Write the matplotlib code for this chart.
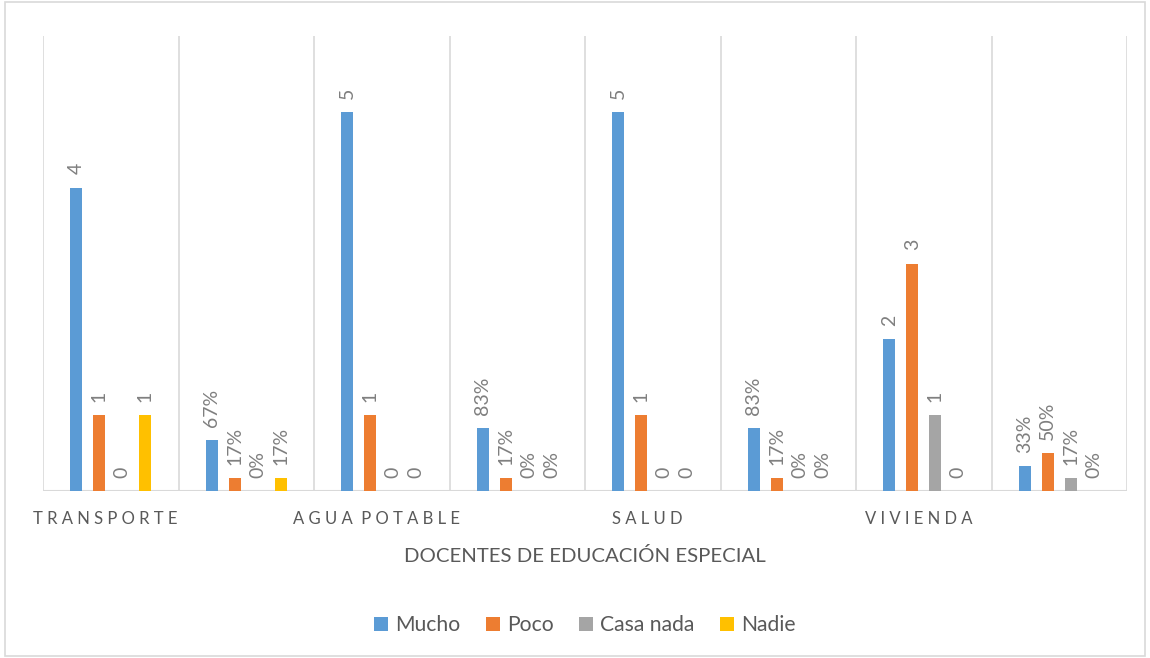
import matplotlib
matplotlib.use("Agg")
import matplotlib.pyplot as plt
from matplotlib.patches import Rectangle
import numpy as np

# data
categories = ["TRANSPORTE", "AGUA POTABLE", "SALUD", "VIVIENDA"]
series = ["Mucho", "Poco", "Casa nada", "Nadie"]
colors = ["#5B9BD5", "#ED7D31", "#A5A5A5", "#FFC000"]
# counts per category (rows = series)
counts = [
    [4, 5, 5, 2],   # Mucho
    [1, 1, 1, 3],   # Poco
    [0, 0, 0, 1],   # Casa nada
    [1, 0, 0, 0],   # Nadie
]
# percentages per category (as fractions)
pcts = [
    [0.67, 0.83, 0.83, 0.33],
    [0.17, 0.17, 0.17, 0.50],
    [0.00, 0.00, 0.00, 0.17],
    [0.17, 0.00, 0.00, 0.00],
]

plt.rcParams['font.family'] = ['Lato', 'DejaVu Sans']
txt = "#595959"

fig = plt.figure(figsize=(11.5, 6.58), dpi=100)
ax = fig.add_axes([43 / 1150, 1 - 491 / 658, (1127 - 43) / 1150, (491 - 36) / 658])

n_groups = len(categories) * 2
offsets = [-0.255, -0.085, 0.085, 0.255]
width = 0.088

for s in range(len(series)):
    vals = []
    labs = []
    for c in range(len(categories)):
        vals += [counts[s][c], pcts[s][c]]
        labs += [str(counts[s][c]), "{:.0f}%".format(pcts[s][c] * 100)]
    xs = np.arange(n_groups) + offsets[s]
    ax.bar(xs, vals, width, color=colors[s], label=series[s], zorder=3)
    for x, v, l in zip(xs, vals, labs):
        ax.annotate(l, (x, v), xytext=(0, 9.5), textcoords="offset points",
                    rotation=90, ha="center", va="bottom", fontsize=14, color="#7f7f7f")

ax.set_xlim(-0.5, n_groups - 0.5)
ax.set_ylim(0, 6)
for gx in np.arange(-0.5, n_groups, 1.0):
    ax.axvline(gx, color="#d9d9d9", lw=1.2, zorder=1)
ax.axhline(0, color="#d9d9d9", lw=1.5, zorder=2)
for sp in ax.spines.values():
    sp.set_visible(False)
ax.set_yticks([])
ax.set_xticks([])

# category labels (letter spaced) under every other group
for i, cat in enumerate(categories):
    spaced = "  ".join(" ".join(w) for w in cat.split(" "))
    ax.text(i * 2 - 0.04, -0.27, spaced, ha="center", va="top", fontsize=12, color=txt,
            transform=ax.transData)

fig.text(585 / 1150, 1 - 556 / 658, "DOCENTES DE EDUCACIÓN ESPECIAL", ha="center",
         va="center", fontsize=14.7, color=txt)

leg = fig.legend(loc="center", bbox_to_anchor=(585 / 1150, 1 - 625 / 658), ncol=4,
                 frameon=False, fontsize=15.2, handlelength=0.65, handleheight=0.65,
                 handletextpad=0.35, columnspacing=1.2)
for t in leg.get_texts():
    t.set_color(txt)

fig.patches.append(Rectangle((0.004, 0.003), 0.992, 0.994, transform=fig.transFigure,
                             fill=False, edgecolor="#d9d9d9", lw=1.2))

fig.savefig("out.png", dpi=100)
